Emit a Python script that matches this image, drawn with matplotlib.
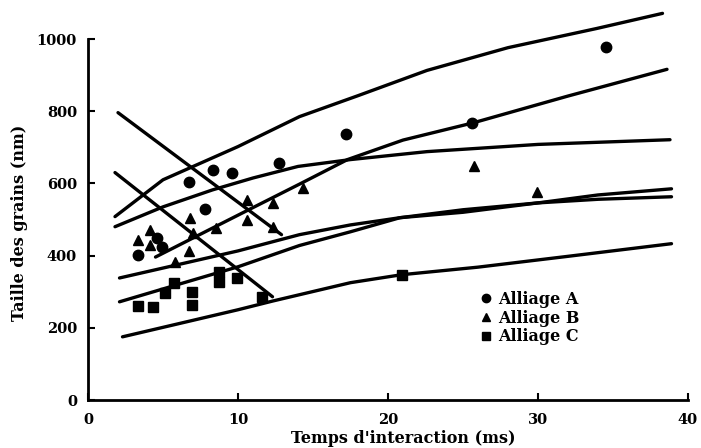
import numpy as np
import matplotlib
matplotlib.use("Agg")
from matplotlib import pyplot as plt

plt.rcParams['font.family'] = ['DejaVu Serif']
plt.rcParams['font.weight'] = 'bold'

# measured points
a_x = [3.3, 4.6, 4.9, 6.7, 7.8, 8.3, 9.6, 12.7, 17.2, 25.6, 34.5]
a_y = [402, 449, 424, 605, 530, 638, 629, 657, 738, 768, 979]

b_x = [3.3, 4.1, 4.1, 5.8, 6.7, 6.8, 7.0, 8.5, 10.6, 10.6, 12.3, 12.3, 14.3, 25.7, 29.9]
b_y = [444, 472, 430, 383, 412, 505, 463, 477, 555, 499, 546, 480, 588, 649, 577]

c_x = [3.3, 4.3, 5.1, 5.7, 6.9, 6.9, 8.7, 8.7, 9.9, 11.6, 20.9]
c_y = [261, 258, 297, 324, 300, 264, 327, 355, 338, 286, 347]

# hand-drawn curves
top_x = [1.8, 5, 10, 14.1, 18, 22.6, 28, 33.9, 38.3]
top_y = [508, 610, 702, 785, 843, 913, 976, 1029, 1071]

flat_x = [1.8, 5, 8.3, 11, 14, 17.5, 22.6, 30, 38.8]
flat_y = [480, 535, 582, 615, 647, 666, 688, 708, 721]

steep_x = [4.5, 8.1, 11, 14.1, 17.3, 21, 25.7, 32, 38.6]
steep_y = [396, 472, 533, 598, 666, 720, 768, 842, 916]

p1_x = [2.1, 6, 10, 14.1, 17.5, 20.8, 25, 30, 34, 38.9]
p1_y = [338, 375, 413, 458, 485, 505, 520, 546, 568, 585]

p2_x = [2.1, 6, 10, 14.1, 17.5, 20.8, 25, 30, 34, 38.9]
p2_y = [272, 320, 369, 428, 466, 505, 527, 546, 556, 563]

bot_x = [2.3, 6, 10, 12.3, 17.5, 20.9, 26, 32, 38.9]
bot_y = [175, 211, 250, 274, 325, 347, 368, 398, 433]

d1_x = [2.0, 12.9]
d1_y = [796, 458]
d2_x = [1.8, 12.3]
d2_y = [630, 286]

fig = plt.figure(figsize=(7.01, 4.48), dpi=100)
ax = fig.add_axes([88/701, 48/448, 600/701, 361/448])

for xs, ys in [(top_x, top_y), (flat_x, flat_y), (steep_x, steep_y),
               (p1_x, p1_y), (p2_x, p2_y), (bot_x, bot_y),
               (d1_x, d1_y), (d2_x, d2_y)]:
    ax.plot(xs, ys, color='black', lw=2.4, solid_capstyle='round', clip_on=False)

ax.plot(a_x, a_y, 'o', color='black', ms=7.5, label='Alliage A')
ax.plot(b_x, b_y, '^', color='black', ms=7.5, label='Alliage B')
ax.plot(c_x, c_y, 's', color='black', ms=6.5, label='Alliage C')

ax.set_xlim(0, 40)
ax.set_ylim(0, 1000)
ax.set_xticks([0, 10, 20, 30, 40])
ax.set_yticks([0, 200, 400, 600, 800, 1000])
ax.spines['top'].set_visible(False)
ax.spines['right'].set_visible(False)
ax.spines['left'].set_linewidth(2)
ax.spines['bottom'].set_linewidth(2)
ax.tick_params(direction='in', length=5, width=1.5, labelsize=10.5)
ax.tick_params(axis='x', pad=9)
ax.tick_params(axis='y', pad=8)
for lab in ax.get_xticklabels() + ax.get_yticklabels():
    lab.set_fontweight('bold')

ax.set_xlabel("Temps d'interaction (ms)", fontsize=11.5, fontweight='bold')
ax.xaxis.set_label_coords(0.525, -0.082)
ax.set_ylabel("Taille des grains (nm)", fontsize=11.5, fontweight='bold')
ax.yaxis.set_label_coords(-0.1, 0.49)

ax.legend(loc='upper left', bbox_to_anchor=(0.652, 0.302), frameon=False,
          handletextpad=0.4, labelspacing=0.1, borderpad=0, borderaxespad=0,
          handlelength=0.8, markerscale=0.8, prop={'weight': 'bold', 'size': 11.5})

fig.savefig("out.png", dpi=100)
